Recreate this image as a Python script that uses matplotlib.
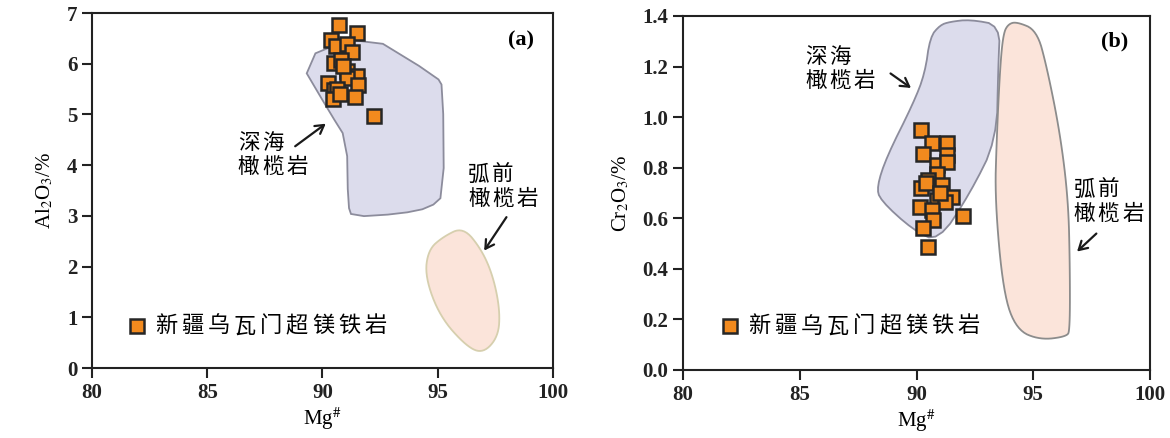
import numpy as np
import matplotlib.pyplot as plt
from matplotlib.patches import Polygon
from matplotlib.transforms import offset_copy

plt.rcParams['font.family'] = ['Liberation Serif', 'DejaVu Serif']
plt.rcParams['mathtext.fontset'] = 'stix'
CJK = ['Noto Sans CJK SC', 'DejaVu Sans']

# ---------------- data ----------------
# (a) Mg# vs Al2O3
mg_a = [90.72, 91.51, 90.37, 90.59, 91.05, 91.30, 90.48, 90.81, 91.08, 91.51,
        90.22, 90.50, 91.05, 91.56, 90.64, 90.47, 91.41, 92.23, 90.90, 90.75]
al2o3 = [6.77, 6.60, 6.46, 6.34, 6.38, 6.23, 6.02, 6.07, 5.86, 5.76,
         5.62, 5.48, 5.71, 5.58, 5.50, 5.30, 5.34, 4.97, 5.95, 5.40]

# (b) Mg# vs Cr2O3
mg_b = [90.18, 90.65, 91.32, 90.29, 91.32, 90.87, 91.32, 90.87, 90.51, 91.08,
        90.18, 90.87, 91.51, 91.22, 90.15, 90.65, 91.98, 90.72, 90.29, 90.51,
        90.40, 91.00]
cr2o3 = [0.951, 0.898, 0.898, 0.856, 0.850, 0.810, 0.823, 0.777, 0.751, 0.731,
         0.718, 0.672, 0.685, 0.665, 0.643, 0.632, 0.610, 0.593, 0.560, 0.487,
         0.740, 0.700]

# fields (outline vertices, Mg#, oxide)
abyssal_a = [(88.98, 6.07), (91.84, 6.61), (94.97, 5.74), (95.23, 5.54), (95.27, 3.41),
             (94.66, 3.16), (93.36, 3.04), (91.28, 2.98), (91.11, 3.21), (91.06, 4.50),
             (90.33, 5.03)]
forearc_a = [(96.11, 2.78), (96.91, 2.33), (97.41, 1.80), (97.70, 1.14), (97.63, 0.62),
             (96.98, 0.29), (96.26, 0.42), (95.10, 1.01), (94.45, 1.80), (94.59, 2.33),
             (95.24, 2.59)]
abyssal_b = [(91.43, 1.377), (92.29, 1.386), (93.58, 1.364), (93.50, 1.199), (93.43, 0.909),
             (92.29, 0.698), (90.93, 0.507), (89.86, 0.553), (88.44, 0.672), (88.30, 0.725),
             (88.72, 0.843), (89.86, 1.054), (90.36, 1.173), (90.58, 1.317), (91.01, 1.364)]
forearc_b = [(94.29, 1.377), (95.15, 1.344), (95.58, 1.199), (96.15, 0.936), (96.50, 0.672),
             (96.57, 0.408), (96.57, 0.158), (96.43, 0.132), (95.29, 0.119), (94.29, 0.158),
             (93.72, 0.303), (93.36, 0.672), (93.43, 0.909), (93.58, 1.199), (93.72, 1.331),
             (93.93, 1.368)]

legend_txt = '新疆乌瓦门超镁铁岩'
abyssal_txt = ['深海', '橄榄岩']
forearc_txt = ['弧前', '橄榄岩']


def smooth(pts, n):
    # Chaikin corner cutting for a closed outline
    p = np.asarray(pts, float)
    for _ in range(n):
        q = np.roll(p, -1, axis=0)
        p = np.column_stack([0.75 * p + 0.25 * q, 0.25 * p + 0.75 * q]).reshape(-1, 2)
    return p


def spaced(ax, x, y, lines, pitch=17.5, lead=17.0, size=15.5):
    # CJK text with wide character spacing; (x, y) = left edge, centre of block
    top = (len(lines) - 1) * lead / 2.0
    for j, line in enumerate(lines):
        for i, ch in enumerate(line):
            tr = offset_copy(ax.transData, fig=ax.figure, x=i * pitch, y=top - j * lead,
                             units='points')
            ax.text(x, y, ch, transform=tr, family=CJK, fontsize=size,
                    ha='left', va='center')


def style(ax, ylim, yticks, yfmt, ylabel):
    ax.set_xlim(80, 100)
    ax.set_ylim(*ylim)
    ax.set_xticks([80, 85, 90, 95, 100])
    ax.set_yticks(yticks)
    ax.set_yticklabels([yfmt.format(t) for t in yticks])
    ax.tick_params(direction='out', length=7, width=1.5, labelsize=15, colors='#222222')
    for lab in ax.get_xticklabels() + ax.get_yticklabels():
        lab.set_fontweight('bold')
    for s in ax.spines.values():
        s.set_linewidth(1.5)
        s.set_color('#222222')
    ax.set_xlabel(r'Mg$^{\#}$', fontsize=15, labelpad=2)
    ax.set_ylabel(ylabel, fontsize=15, labelpad=8)


fig = plt.figure(figsize=(11.7, 4.38), dpi=100)
ax1 = fig.add_axes([0.0786, 0.1598, 0.394, 0.8105])
ax2 = fig.add_axes([0.5838, 0.1553, 0.3991, 0.8082])

blue_fc, blue_ec = '#dcdcec', '#8c8c9c'
pink_fc = '#fbe4da'
mk = dict(ls='none', marker='s', ms=9.5, mfc='#f28a1e', mec='#262626', mew=1.8, zorder=5)
arr = dict(arrowstyle='->,head_length=0.6,head_width=0.35', color='#1a1a1a', lw=1.6)

# ---- (a) ----
ax1.add_patch(Polygon(smooth(abyssal_a, 1), closed=True, fc=blue_fc, ec=blue_ec, lw=1.3, zorder=1))
ax1.add_patch(Polygon(smooth(forearc_a, 3), closed=True, fc=pink_fc, ec='#d6cfae', lw=1.3, zorder=1))
ax1.plot(mg_a, al2o3, **mk)
ax1.plot([81.95], [0.83], **mk)
spaced(ax1, 82.75, 0.83, [legend_txt], pitch=18.8, size=16)
spaced(ax1, 86.33, 4.2, abyssal_txt)
ax1.annotate('', xy=(90.24, 4.85), xytext=(88.72, 4.34), arrowprops=arr)
spaced(ax1, 96.31, 3.57, forearc_txt)
ax1.annotate('', xy=(96.95, 2.27), xytext=(98.05, 3.02), arrowprops=arr)
ax1.text(98.6, 6.45, '(a)', fontsize=16, fontweight='bold', ha='center', va='center')
style(ax1, (0, 7), list(range(8)), '{:d}', r'Al$_2$O$_3$/%')

# ---- (b) ----
ax2.add_patch(Polygon(smooth(abyssal_b, 2), closed=True, fc=blue_fc, ec=blue_ec, lw=1.3, zorder=1))
ax2.add_patch(Polygon(smooth(forearc_b, 3), closed=True, fc=pink_fc, ec='#8c8c8c', lw=1.3, zorder=1))
ax2.plot(mg_b, cr2o3, **mk)
ax2.plot([82.0], [0.174], **mk)
spaced(ax2, 82.8, 0.174, [legend_txt], pitch=18.8, size=16)
spaced(ax2, 85.22, 1.19, abyssal_txt)
ax2.annotate('', xy=(89.86, 1.109), xytext=(88.79, 1.179), arrowprops=arr)
spaced(ax2, 96.72, 0.664, forearc_txt)
ax2.annotate('', xy=(96.79, 0.461), xytext=(97.79, 0.547), arrowprops=arr)
ax2.text(98.5, 1.30, '(b)', fontsize=16, fontweight='bold', ha='center', va='center')
style(ax2, (0, 1.4), [0.0, 0.2, 0.4, 0.6, 0.8, 1.0, 1.2, 1.4], '{:.1f}', r'Cr$_2$O$_3$/%')

fig.savefig('out.png', dpi=100)
